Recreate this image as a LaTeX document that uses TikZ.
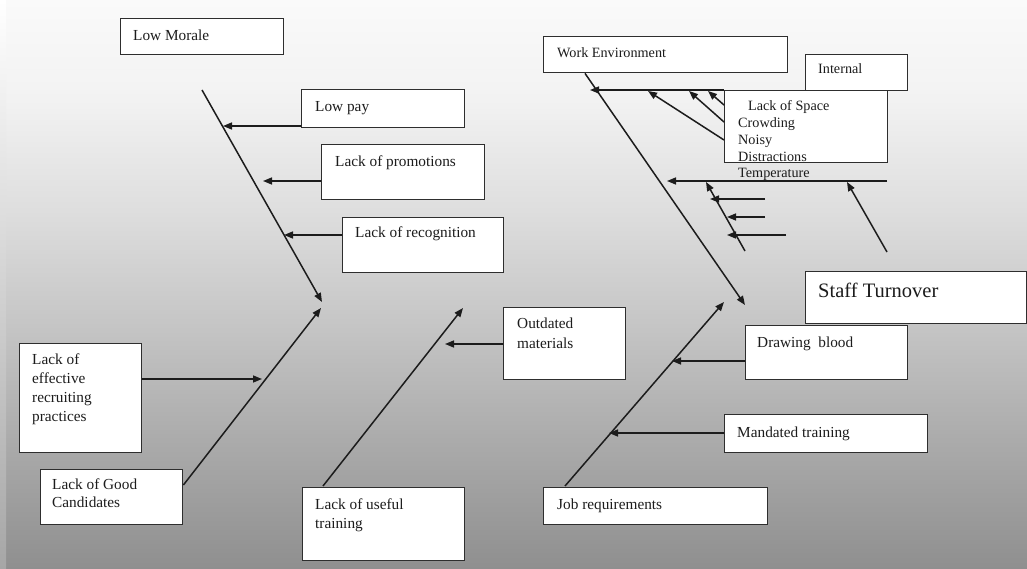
\documentclass[tikz,border=0pt]{standalone}
\usepackage{fontspec}
\setmainfont{Liberation Serif}
\usetikzlibrary{arrows.meta,calc}
\definecolor{edge}{HTML}{2E2E2E}
\definecolor{ink}{HTML}{1C1C1C}
\definecolor{bg0}{HTML}{FAFAFA}
\definecolor{bg1}{HTML}{F2F2F2}
\definecolor{bg2}{HTML}{DEDEDE}
\definecolor{bg3}{HTML}{C4C4C4}
\definecolor{bg4}{HTML}{ABABAB}
\definecolor{bg5}{HTML}{8F8F8F}
\definecolor{rim}{HTML}{A6A6A6}
\newcommand{\cbox}[5]{\node[cbox, minimum width=#4pt, minimum height=#5pt] (#1) at (#2,#3) {};}
\begin{document}
\begin{tikzpicture}[x=1pt,y=-1pt,
  cbox/.style={draw=edge, line width=1.4pt, fill=white, anchor=north west, inner sep=0pt},
  lbl/.style={anchor=base west, inner sep=0pt, text=ink, font=\fontsize{15.3}{19}\selectfont, align=left},
  small/.style={lbl, font=\fontsize{14.2}{16.8}\selectfont},
  bone/.style={draw=ink, line width=1.5pt},
  arr/.style={bone, -{Triangle[length=9pt,width=7pt]}},
]
\useasboundingbox (0,0) rectangle (1027,569);
% background: vertical grey gradient in bands
\fill[white] (0,0) rectangle (1027,569);
\shade[top color=bg0, bottom color=bg1] (0,0) rectangle (1027,100);
\shade[top color=bg1, bottom color=bg2] (0,100) rectangle (1027,210);
\shade[top color=bg2, bottom color=bg3] (0,210) rectangle (1027,330);
\shade[top color=bg3, bottom color=bg4] (0,330) rectangle (1027,440);
\shade[top color=bg4, bottom color=bg5] (0,440) rectangle (1027,569);
% lighter strip along the left edge
\shade[top color=white, bottom color=rim] (0,0) rectangle (6,569);

% ---------- boxes ----------
\cbox{morale}{120}{18}{163}{36}
\cbox{lowpay}{301}{89}{163}{38}
\cbox{promo}{321}{144}{163}{55}
\cbox{recog}{342}{217}{161}{55}
\cbox{recruit}{19}{343}{122}{109}
\cbox{cand}{40}{469}{142}{55}
\cbox{useful}{302}{487}{162}{73}
\cbox{outdated}{503}{307}{122}{72}
\cbox{workenv}{543}{36}{244}{36}
\cbox{internal}{805}{54}{102}{36}
\cbox{space}{724}{90}{163}{72}
\cbox{staff}{805}{271}{221}{52}
\cbox{blood}{745}{325}{162}{54}
\cbox{mandated}{724}{414}{203}{38}
\cbox{jobreq}{543}{487}{224}{37}

% ---------- texts (multi-line texts sit on their last baseline) ----------
\node[lbl] (morale-t) at (133,40.5) {Low Morale};
\node[lbl] (lowpay-t) at (315,111.5) {Low pay};
\node[lbl] (promo-t) at (335,166.5) {Lack of promotions};
\node[lbl] (recog-t) at (355,238) {Lack of recognition};
\node[lbl] (recruit-t) at (32,421) {Lack of\\effective\\recruiting\\practices};
\node[lbl, font=\fontsize{15.3}{18}\selectfont] (cand-t) at (52,507) {Lack of Good\\Candidates};
\node[lbl] (useful-t) at (315,528) {Lack of useful\\training};
\node[lbl, font=\fontsize{15.3}{20}\selectfont] (outdated-t) at (517,348) {Outdated\\materials};
\node[small] (workenv-t) at (557,58) {Work Environment};
\node[small] (internal-t) at (818,74) {Internal};
\node[small] (space-t) at (748,111) {Lack of Space};
\node[small] (crowd-t) at (738,178) {Crowding\\Noisy\\Distractions\\Temperature};
\node[lbl, font=\fontsize{20.5}{24}\selectfont] (staff-t) at (818,297) {Staff Turnover};
\node[lbl] (blood-t) at (757,347) {Drawing\ \ blood};
\node[lbl] (mandated-t) at (737,437) {Mandated training};
\node[lbl] (jobreq-t) at (557,509) {Job requirements};

% ---------- bones ----------
% left: morale bone and its causes
\coordinate (mor-top) at (202,90);
\coordinate (mor-end) at (322,302);
\draw[arr] (mor-top) -- (mor-end);
\coordinate (lp-tip) at (223,126);
\coordinate (pr-tip) at (263,181);
\coordinate (rc-tip) at (284,235);
\draw[arr] (lowpay.west |- lp-tip) -- (lp-tip);
\draw[arr] (promo.west |- pr-tip) -- (pr-tip);
\draw[arr] (recog.west |- rc-tip) -- (rc-tip);

% left: candidates bone
\coordinate (cand-end) at (321,308);
\draw[arr] ($(cand.north east)+(0,16)$) -- (cand-end);
\coordinate (rec-tip) at (262,379);
\draw[arr] (recruit.east |- rec-tip) -- (rec-tip);

% middle: training bone
\coordinate (use-end) at (463,308);
\draw[arr] ($(useful.north west)+(21,-1)$) -- (use-end);
\coordinate (out-tip) at (445,344);
\draw[arr] (outdated.west |- out-tip) -- (out-tip);

% right: job requirements bone
\coordinate (job-end) at (724,302);
\draw[arr] ($(jobreq.north west)+(22,-1)$) -- (job-end);
\coordinate (bl-tip) at (672,361);
\coordinate (md-tip) at (609,433);
\draw[arr] (blood.west |- bl-tip) -- (bl-tip);
\draw[arr] (mandated.west |- md-tip) -- (md-tip);

% right: work environment bone
\coordinate (we-end) at (745,305);
\draw[arr] ($(workenv.south west)+(42,0)$) -- (we-end);
\coordinate (int-tip) at (590,90);
\draw[arr] (space.north west) -- (int-tip);
\coordinate (d1) at (648,91);
\coordinate (d2) at (689,91);
\coordinate (d3) at (708,91);
\draw[arr] ($(space.north west)+(0,50)$) -- (d1);
\draw[arr] ($(space.north west)+(0,32)$) -- (d2);
\draw[arr] ($(space.north west)+(0,15)$) -- (d3);

% temperature branch and its sub-bones
\coordinate (tmp-r) at (887,181);
\coordinate (tmp-tip) at (667,181);
\draw[arr] (tmp-r) -- (tmp-tip);
\coordinate (rd-base) at (887,252);
\coordinate (rd-tip) at (847,182);
\draw[arr] (rd-base) -- (rd-tip);
\coordinate (sb-base) at (745,251);
\coordinate (sb-tip) at (706,182);
\draw[arr] (sb-base) -- (sb-tip);
\coordinate (s1-r) at (765,199);
\coordinate (s1-tip) at (710,199);
\coordinate (s2-r) at (765,217);
\coordinate (s2-tip) at (727,217);
\coordinate (s3-r) at (786,235);
\coordinate (s3-tip) at (727,235);
\draw[arr] (s1-r) -- (s1-tip);
\draw[arr] (s2-r) -- (s2-tip);
\draw[arr] (s3-r) -- (s3-tip);
\end{tikzpicture}
\end{document}
